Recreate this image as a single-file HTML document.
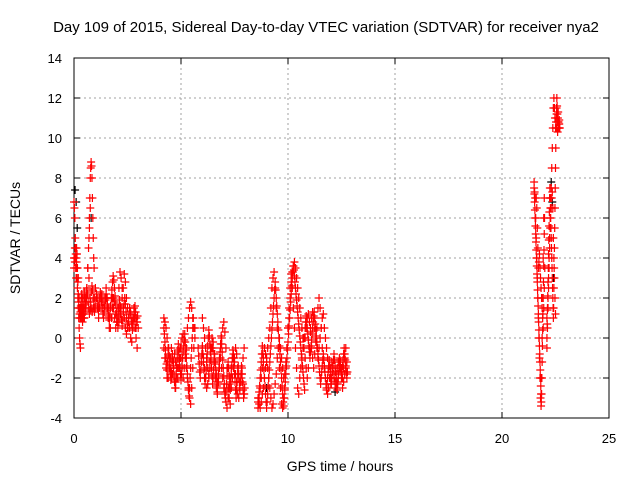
<!DOCTYPE html>
<html><head><meta charset="utf-8">
<style>
body{margin:0;background:#fff;}
svg{display:block;font-family:"Liberation Sans",sans-serif;}
</style></head>
<body>
<svg id="chart" width="640" height="480" viewBox="0 0 640 480">
<rect width="640" height="480" fill="#fff"/>
<text x="326" y="32" font-size="15" text-anchor="middle" fill="#000">Day 109 of 2015, Sidereal Day-to-day VTEC variation (SDTVAR) for receiver nya2</text>
<g id="grid"></g>
<g id="axes"></g>
<g id="marks"></g>
<text x="340" y="471" font-size="14" text-anchor="middle">GPS time / hours</text>
<text x="20" y="238" font-size="14" text-anchor="middle" transform="rotate(-90 20 238)">SDTVAR / TECUs</text>
</svg>
<script>
const xTicks=[0,5,10,15,20,25];
const yTicks=[-4,-2,0,2,4,6,8,10,12,14];
// tracks: start hour, step hours, values (TECU)
const trackStarts=[0,0,0.7,0.3,1.5,4.2,4.2,6.0,6.0,8.6,8.6,10.8,10.8,21.5,21.6,22.1,22.1,0,0.3,4.2,5.8,8.6,10.8,21.5,22.1];
const trackSteps=[0.02,0.04,0.02,0.05,0.05,0.05,0.05,0.05,0.05,0.05,0.05,0.05,0.05,0.025,0.025,0.025,0.025,0.02,0.03,0.025,0.025,0.025,0.025,0.0125,0.0125];
const a1=[6.8,6.5,6,5,4.5,4,3.5,3,2.5,2,1.5,1,0.5,0,-0.3,-0.5];
const a2=[4,3.8,4.2,4.5,3.5,3,2,1.5,1,1,1.2,1.5,1,1.3,1.8,2.5,3.5,4.5,5.5,6.5];
const a3=[5,6,7,8,8.5,8.8,8.6,8,7,6,5,4,3.5];
const a4=[1,1.2,1.5,1,1.5,2,2.5,3.5,3,2,1.5,1.3,1.5,2,2.5,2,1.5,1,1.5,2,2.2,1.8,1.5,2,2.5,2,1.5,1,1.5,2,2,1.5,1,0.5,0.8,1.5,2.5,3.3,3,2.5,1.5,1,0.5,0.2,0.5,1,1.5,1.2,0.8,1,1.5,1,0.5,0.8];
const a5=[2,1.5,1,0.5,0.5,1,1.5,2,1.8,1.2,0.8,0.5,0.8,1.2,1.5,2,2.5,3.2,2.8,2,1.5,1,0.5,0,-0.2,0.5,1,0.5,0,-0.5,0.5];
const b1=[1,0.8,0.5,0,-0.5,-1,-1.5,-2,-1.8,-1.2,-0.8,-1.2,-1.5,-2,-1.5,-1,-0.5,0,0.2,-0.2,-0.8,-1.5,-2,-2.5,-3,-3.3,-2.5,-1.5,-0.5,0.5];
const b2=[-0.5,-1,-1.5,-2,-2,-1.5,-1,-0.5,-1,-1.5,-2.2,-2.5,-2,-1.5,-1,-0.5,-1,-1.5,-2,-1.5,-1,-0.5,0.5,1,1.5,1.8,1.5,1,0.5,0];
const c1=[1,0.5,0,-0.5,-1,-1.5,-2,-1.5,-1,-0.5,-0.2,-0.8,-1.3,-1.8,-2.2,-1.8,-1,-0.5,0,0.5,0.8,0.3,-0.5,-1.5,-2.5,-3,-3.3,-2.5,-2,-1.5,-1,-0.5,-0.8,-1.5,-2,-2.5,-2,-1.5,-1,-0.5];
const c2=[-0.5,-1,-1.5,-2,-2.5,-2.3,-1.8,-1.2,-0.5,0,-0.5,-1.2,-2,-2.5,-2.8,-2.2,-1.5,-1,-1.5,-2,-2.5,-2.8,-3.2,-3.5,-3,-2.5,-2,-1.5,-1,-0.8,-1.2,-1.8,-2.2,-2.8,-3,-2.5,-2.2,-1.8,-2.3,-2.8];
const d1=[-3,-3.3,-3.5,-3.2,-2.8,-2.5,-2,-1.5,-1,-0.5,0,0.5,1.5,2.5,3,3.3,2.5,1.5,0.5,-0.5,-1.5,-2.5,-3.3,-3.5,-3,-2.5,-1.5,-0.5,0.5,1,2,2.8,3.3,3.6,3.8,3.5,3,2.5,2,1.5,1,0.5,0,-0.5];
const d2=[-3.5,-3,-2.5,-2,-1.5,-1,-0.5,-0.8,-1.2,-1.5,-2,-2.5,-3,-3.5,-3.3,-2.8,-2.3,-1.8,-1,-0.5,0,-0.5,-1,-1.5,-2,-1.8,-1.2,-0.5,0.5,1.5,2.5,3.2,2.5,1.5,0.5,-0.5,-1.5,-2.5,-2.8,-2,-1.5,-1,-0.5,0];
const d3=[-1,-1.5,-2,-1.5,-0.5,0.5,1,1.3,1,0.5,0,-0.5,-1,-0.5,0,0.5,1,1.2,0.5,0,-0.5,-1,-1.5,-2,-2.3,-2,-1.5,-1.8,-2.2,-2.5,-2.2,-1.8,-1.5,-1.2,-1.5,-2,-1.5,-1,-0.5,-1.8];
const d4=[0,0.5,1,1.2,0.8,0.3,-0.5,-1,-1.5,-0.8,-0.2,0.5,1.5,2,1.5,0.5,-0.5,-1,-1.5,-2,-2.5,-2.8,-2.5,-2,-1.5,-1.2,-1.5,-2,-2.3,-1.8,-1.5,-1.2,-1,-1.5,-2,-2.5,-2.2,-1.8,-1.5,-1.2];
const e1=[7.8,7.3,7,6,5,4,3,2,1,0,-1,-2,-3,-3.4,-2,0,2,4,6,7];
const e2=[7,6.5,5.5,4.5,3.5,3.8,4.2,3.5,3,2.5,2,1.5,1,0.5,1.5,2.5,3.5];
const f1=[-0.5,0.5,1.5,2.5,3.5,4.5,5.5,6.5,7.5,8.5,9.5,10.5,11.5,12,11.5,11,10.5,10.8,11.2,10.5,10.3,10.8,10.5,10.7,10.5];
const f2=[1,1.5,2,3,4,5,6,7,6.5,7,7.3,6.5,5,4,3,2,1.2];
const g1=[3.5,4,4.5,4,3.5,3,3.8,4.2,3.5,2.8,2.2,1.8,1.5,1.2,1,1.3,1.6,2,1.5,1,0.8,1.2,1.5,2,2.3,2,1.7,1.5,1.8,2];
const g2=[1.5,1.8,2.2,2,1.6,1.2,1,1.3,1.7,2.1,2.4,2.2,1.8,1.5,1.2,1.4,1.8,2.3,2.6,2.4,2,1.6,1.3,1.5,1.9,2.2,2,1.7,1.4,1.6,2,2.3,2.1,1.8,1.5,1.2,1,1.3,1.6,1.9,2.2,2,1.7,1.4,1.1,0.9,1.2,1.6,2,2.4,2.8,3.1,2.9,2.5,2.1,1.7,1.3,1,0.8,1.1,1.5,1.9,1.6,1.2,0.9,0.6,0.9,1.3,1.7,2,1.7,1.3,1,0.7,0.5,0.8,1.2,1.5,1.3,1,0.7,0.4,0.7,1,1.3,1.6,1.3,1,0.8,1.1];
const h1=[0.5,0.2,-0.2,-0.6,-1,-1.3,-1.6,-1.2,-0.8,-0.5,-0.9,-1.4,-1.8,-2.1,-1.7,-1.2,-0.8,-1.1,-1.5,-1.9,-2.2,-2.5,-2.2,-1.8,-1.4,-1,-0.6,-0.3,-0.7,-1.1,-1.5,-1.8,-2.1,-1.8,-1.4,-1,-0.7,-0.4,-0.1,0.2,-0.2,-0.6,-1,-1.4,-1.8,-2.2,-2.6,-2.9,-2.5,-2,-1.5,-1,-0.5,0,0.5,1];
const h2=[-0.5,-0.9,-1.3,-1.7,-2,-1.6,-1.2,-0.8,-0.4,-0.8,-1.2,-1.6,-2,-2.3,-2,-1.6,-1.2,-0.8,-0.4,0,0.4,0.1,-0.3,-0.7,-1.1,-1.5,-1.9,-2.3,-2,-1.6,-1.2,-0.8,-1.2,-1.6,-2,-2.4,-2.7,-2.3,-1.9,-1.5,-1.1,-0.7,-0.3,0.1,-0.3,-0.7,-1.1,-1.5,-1.9,-2.3,-2.7,-3,-2.7,-2.3,-1.9,-1.5,-1.2,-1.5,-1.9,-2.3,-2.6,-2.2,-1.8,-1.4,-1,-0.6,-1,-1.4,-1.8,-2.2,-2.6,-3,-2.6,-2.2,-1.8,-1.4,-1.8,-2.2,-2.6,-2.2,-1.8,-1.4,-1.8,-2.2,-2.6,-3,-2.8,-2.5];
const h3=[-3.2,-3,-2.7,-2.4,-2,-1.6,-1.2,-0.8,-0.4,-0.8,-1.2,-1.6,-2,-2.4,-2.8,-3.2,-3.5,-3.2,-2.8,-2.4,-2,-1.6,-1.2,-0.8,-0.4,0,0.4,0.8,1.2,1.6,2,2.4,2.8,2.4,2,1.6,1.2,0.8,0.4,0,-0.4,-0.8,-1.2,-1.6,-2,-2.4,-2.8,-3.2,-3.4,-3,-2.6,-2.2,-1.8,-1.4,-1,-0.6,-0.2,0.2,0.6,1,1.4,1.8,2.2,2.6,3,3.3,3.6,3.4,3.1,2.8,2.5,2.2,1.9,1.6,1.3,1,0.7,0.4,0.1,-0.2,-0.5,-0.8,-1.1,-1.4,-1.7,-2,-2.3,-2.6];
const h4=[0.5,0.8,1.1,0.8,0.5,0.2,-0.1,-0.4,-0.7,-1,-0.7,-0.4,-0.1,0.2,0.5,0.8,1.1,1.3,1,0.7,0.4,0.1,-0.2,-0.5,-0.8,-1.1,-1.4,-1.7,-2,-2.3,-2,-1.7,-1.4,-1.1,-0.8,-1.1,-1.4,-1.7,-2,-2.3,-2.6,-2.3,-2,-1.7,-1.4,-1.1,-1.4,-1.7,-2,-2.3,-2,-1.7,-1.4,-1.1,-0.8,-1.1,-1.4,-1.7,-2,-2.3,-2.6,-2.3,-2,-1.7,-1.4,-1.1,-1.4,-1.7,-2,-1.7,-1.4,-1.1,-0.8,-0.5,-0.8,-1.1,-1.4,-1.7,-2,-1.7];
const h5=[7.5,7.2,6.8,6.4,6,5.6,5.2,4.8,4.4,4,3.6,3.2,2.8,2.4,2,1.6,1.2,0.8,0.4,0,-0.4,-0.8,-1.2,-1.6,-2,-2.4,-2.8,-3.2,-2.8,-2,-1.2,-0.4,0.4,1.2,2,2.8,3.6,4.4,5.2,6];
const h6=[0,0.7,1.4,2.1,2.8,3.5,4.2,4.9,5.6,6.3,7,7.5,7,6.5,6,5.5,5,4.5,4,3.5,3,2.5,2,1.5,1,1.5,2.5,3.5,4.5,5.5,6.5,7.5,8.5,9.5,10.5,11,11.5,12,11.6,11.2,10.8,11,11.3,10.8,10.5,10.7,10.9,10.5];
const trackValues=[a1,a2,a3,a4,a5,b1,b2,c1,c2,d1,d2,d3,d4,e1,e2,f1,f2,g1,g2,h1,h2,h3,h4,h5,h6];
const blackT=[0.05,0.1,0.8,22.3,22.35,9.0,12.2,0.15,22.4];
const blackV=[7.4,6.8,6.0,7.8,6.8,-2.5,-2.7,5.5,3.0];

const L=74,R=609,T=58,B=418;
const xs=t=>L+(t-0)/(25-0)*(R-L);
const ys=v=>B-(v+4)/(14+4)*(B-T);
const NS="http://www.w3.org/2000/svg";
function mk(tag,attrs,parent){const e=document.createElementNS(NS,tag);for(const k in attrs)e.setAttribute(k,attrs[k]);parent.appendChild(e);return e;}
const grid=document.getElementById('grid'),axes=document.getElementById('axes'),marks=document.getElementById('marks');
xTicks.forEach(t=>{
  const x=xs(t);
  if(t>0&&t<25){const g=mk('line',{x1:x,x2:x,y1:T,y2:B,stroke:'#a0a0a0','stroke-dasharray':'2,3'},grid);
  
  }
  mk('line',{x1:x,x2:x,y1:B,y2:B-6,stroke:'#000'},axes);
  mk('line',{x1:x,x2:x,y1:T,y2:T+6,stroke:'#000'},axes);
  const lb=mk('text',{x:x,y:443,'font-size':13,'text-anchor':'middle'},axes);
  lb.textContent=t;
  
  
});
yTicks.forEach(v=>{
  const y=ys(v);
  if(v>-4&&v<14){const g=mk('line',{x1:L,x2:R,y1:y,y2:y,stroke:'#a0a0a0','stroke-dasharray':'2,3'},grid);
  
  }
  mk('line',{x1:L,x2:L+6,y1:y,y2:y,stroke:'#000'},axes);
  mk('line',{x1:R,x2:R-6,y1:y,y2:y,stroke:'#000'},axes);
  const lb=mk('text',{x:62,y:y+5,'font-size':13,'text-anchor':'end'},axes);
  lb.textContent=v;
  
  
});
const border=mk('rect',{x:L,y:T,width:R-L,height:B-T,fill:'none',stroke:'#000'},axes);


function plus(t,v,col,name){
  const x=xs(t),y=ys(v);
  const p=mk('path',{d:`M${x-4},${y}H${x+4}M${x},${y-4}V${y+4}`,stroke:col,'stroke-width':1.2,fill:'none'},marks);
  
  
}
blackT.forEach((t,i)=>plus(t,blackV[i],'#000','black-point'));
trackValues.forEach((vals,k)=>{
  vals.forEach((v,i)=>plus(trackStarts[k]+i*trackSteps[k],v,'#ff0000','red-point'));
});
</script>
</body></html>
